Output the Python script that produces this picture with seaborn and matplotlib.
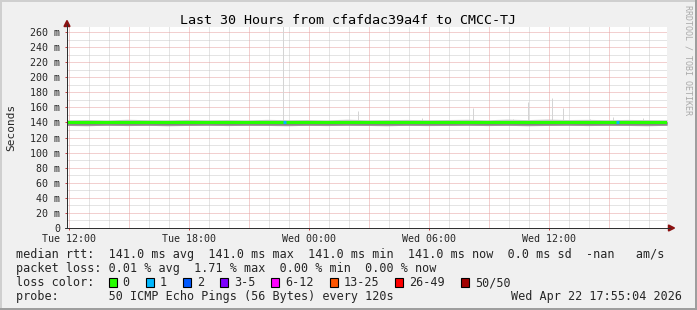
import numpy as np
import pandas as pd
import matplotlib
matplotlib.use("Agg")
import matplotlib.pyplot as plt
import seaborn as sns
from matplotlib.patches import Rectangle, Polygon
from matplotlib.lines import Line2D

# ---------------- data ----------------
title = "Last 30 Hours from cfafdac39a4f to CMCC-TJ"
start_hour = 11 + 55 / 60 + 4 / 3600          # Tue 11:55:04 (hours since Tue 00:00)
span_hours = 30
sample_hours = [start_hour + i for i in range(31)]   # hourly samples across the window

median_ms = [141.0, 141.0, 141.0, 141.0, 141.0, 141.0, 141.0, 141.0, 141.0, 141.0, 141.0,
             141.0, 141.0, 141.0, 141.0, 141.0, 141.0, 141.0, 141.0, 141.0, 141.0,
             141.0, 141.0, 141.0, 141.0, 141.0, 141.0, 141.0, 141.0, 141.0, 141.0]
smoke_min_ms = [136.0, 135.8, 136.2, 135.9, 136.1, 135.8, 136.0, 136.2, 135.9, 136.1, 136.0,
                135.8, 136.1, 135.9, 136.2, 136.0, 135.8, 136.1, 135.9, 136.0, 136.2,
                135.9, 136.1, 135.8, 136.0, 136.2, 135.9, 136.1, 136.0, 135.8, 136.1]
smoke_q1_ms = [138.0, 137.8, 138.1, 137.9, 138.0, 137.7, 137.9, 138.1, 137.8, 138.0, 137.9,
               137.8, 138.0, 137.9, 138.1, 137.9, 137.8, 138.0, 137.9, 137.9, 138.1,
               137.8, 138.0, 137.7, 137.9, 138.1, 137.8, 138.0, 137.9, 137.8, 138.0]
smoke_max_ms = [143.6, 143.9, 143.4, 144.2, 143.7, 143.5, 144.0, 143.6, 143.8, 143.5, 144.1,
                143.7, 143.9, 143.5, 144.3, 143.6, 143.8, 144.0, 143.7, 143.9, 144.2,
                143.6, 144.4, 143.8, 144.5, 143.9, 144.1, 143.7, 144.0, 143.8, 143.6]

spike_hours = [22.72, 26.45, 29.65, 32.20, 34.20, 34.97, 36.15, 36.72, 38.07, 39.20, 40.72]
spike_ms = [300.0, 155.0, 146.0, 159.0, 145.0, 167.0, 172.0, 159.0, 145.0, 147.0, 146.0]

loss1_hours = [22.72, 39.35]

x_tick_hours = [12, 18, 24, 30, 36]
x_tick_labels = ["Tue 12:00", "Tue 18:00", "Wed 00:00", "Wed 06:00", "Wed 12:00"]
y_tick_values = [0, 20, 40, 60, 80, 100, 120, 140, 160, 180, 200, 220, 240, 260]

rtt_stats = [141.0, 141.0, 141.0, 141.0, 0.0]     # avg, max, min, now, sd
loss_stats = [0.01, 1.71, 0.00, 0.00]             # avg, max, min, now
loss_labels = ["0", "1", "2", "3-5", "6-12", "13-25", "26-49", "50/50"]
loss_colors = ["#26ff00", "#00b8ff", "#0059ff", "#7e00ff", "#ff00ff", "#ff5500", "#ff0000", "#a10000"]
probe_text = "50 ICMP Echo Pings (56 Bytes) every 120s"
date_text = "Wed Apr 22 17:55:04 2026"
watermark = "RRDTOOL / TOBI OETIKER"

# ---------------- style ----------------
sns.set_theme(style="white")
plt.rcParams["font.family"] = ["DejaVu Sans Mono"]

W, H = 697, 310
fig = plt.figure(figsize=(W / 100, H / 100), dpi=100, facecolor="#f0f0f0")

def fx(px):
    return px / W

def fy(py):
    return 1 - py / H

ax_l, ax_r, ax_t, ax_b = 67, 667, 27, 228
ax = fig.add_axes([fx(ax_l), fy(ax_b), fx(ax_r - ax_l), (ax_b - ax_t) / H])
ax.set_facecolor("white")
x0, x1 = start_hour, start_hour + span_hours
y_top = (ax_b - ax_t) / (196 / 260)
ax.set_xlim(x0, x1)
ax.set_ylim(0, y_top)
for s in ax.spines.values():
    s.set_visible(False)

# grid
px = 0.72
minor_kw = dict(color="#cacaca", lw=px, linestyle=(0, (1, 1)), zorder=0.5)
major_kw = dict(color="#e6a0a0", lw=px, linestyle=(0, (1, 1)), zorder=0.6)
for h in range(12, 42):
    ax.axvline(h, **(major_kw if h % 3 == 0 else minor_kw))
for v in range(10, 270, 10):
    if v % 20:
        ax.axhline(v, **minor_kw)
for v in y_tick_values[1:]:
    ax.axhline(v, **major_kw)

# smoke
ax.fill_between(sample_hours, smoke_min_ms, smoke_max_ms, color="#c4c4c4", lw=0, zorder=1)
ax.fill_between(sample_hours, smoke_min_ms, median_ms, color="#a09696", lw=0, zorder=1.1)
ax.fill_between(sample_hours, smoke_q1_ms, median_ms, color="#7a7a7a", lw=0, zorder=1.2)
ax.vlines(spike_hours, 142.0, spike_ms, color="#d4d4d4", lw=px, zorder=0.9)

# median line
df = pd.DataFrame({"hour": sample_hours, "median": median_ms})
sns.lineplot(data=df, x="hour", y="median", ax=ax, color=loss_colors[0], lw=2.2, zorder=3)
for h in loss1_hours:
    ax.plot([h, h + 0.15], [141.0, 141.0], color=loss_colors[1], lw=2.2,
            solid_capstyle="butt", zorder=4)

ax.set_xlabel("")
ax.set_ylabel("")
ax.set_xticks(x_tick_hours)
ax.set_xticklabels(x_tick_labels)
ax.set_yticks(y_tick_values)
ax.set_yticklabels(["0" if v == 0 else f"{v} m" for v in y_tick_values])
ax.tick_params(axis="x", labelsize=7.2, length=1.5, width=px, color="#d04040", pad=2.6, bottom=True)
ax.tick_params(axis="y", labelsize=7.2, length=1.5, width=px, color="#d04040", pad=3.6, left=True)

# axes lines with arrows
axis_col = "#303030"
arrow_col = "#8b1010"
fig.add_artist(Line2D([fx(ax_l), fx(ax_l)], [fy(ax_b), fy(24)], color=axis_col, lw=px,
                      transform=fig.transFigure))
fig.add_artist(Line2D([fx(ax_l - 2), fx(670)], [fy(ax_b), fy(ax_b)], color=axis_col, lw=px,
                      transform=fig.transFigure))
fig.add_artist(Polygon([[fx(64), fy(26.5)], [fx(70), fy(26.5)], [fx(67), fy(20.5)]],
                       closed=True, color=arrow_col, transform=fig.transFigure))
fig.add_artist(Polygon([[fx(668.5), fy(225)], [fx(668.5), fy(231)], [fx(674.5), fy(228)]],
                       closed=True, color=arrow_col, transform=fig.transFigure))

# frame shading
fig.add_artist(Rectangle((0, fy(2)), 1, fy(0) - fy(2), color="#cfcfcf", transform=fig.transFigure, lw=0))
fig.add_artist(Rectangle((0, 0), fx(2), 1, color="#cfcfcf", transform=fig.transFigure, lw=0))
fig.add_artist(Rectangle((0, 0), 1, 2 / H, color="#9e9e9e", transform=fig.transFigure, lw=0))
fig.add_artist(Rectangle((fx(W - 2), 0), fx(2), 1, color="#9e9e9e", transform=fig.transFigure, lw=0))

# texts
fig.text(0.5, fy(20), title, ha="center", va="center", fontsize=9.6, color="black")
fig.text(fx(11), fy(127.5), "Seconds", rotation=90, ha="center", va="center", fontsize=8.0)
fig.text(fx(688), fy(60), watermark, rotation=-90, ha="center", va="center", fontsize=6.0,
         color="#aaaaaa")

lx = fx(16)
fs = 8.5
row_y = [254.5, 268.5, 282.5, 296.5]
line1 = (f"median rtt:  {rtt_stats[0]:.1f} ms avg  {rtt_stats[1]:.1f} ms max  "
         f"{rtt_stats[2]:.1f} ms min  {rtt_stats[3]:.1f} ms now  {rtt_stats[4]:.1f} ms sd  -nan   am/s")
line2 = (f"packet loss: {loss_stats[0]:.2f} % avg  {loss_stats[1]:.2f} % max  "
         f"{loss_stats[2]:.2f} % min  {loss_stats[3]:.2f} % now")
fig.text(lx, fy(row_y[0]), line1, ha="left", va="center", fontsize=fs)
fig.text(lx, fy(row_y[1]), line2, ha="left", va="center", fontsize=fs)
fig.text(lx, fy(row_y[2]), "loss color:", ha="left", va="center", fontsize=fs)
cw = 7.11
bx = 108.5
for lab, col in zip(loss_labels, loss_colors):
    fig.add_artist(Rectangle((fx(bx), fy(row_y[2] + 4.5)), fx(8), 9 / H, facecolor=col,
                             edgecolor="black", lw=0.8, transform=fig.transFigure))
    fig.text(fx(bx + 14), fy(row_y[2]), lab, ha="left", va="center", fontsize=fs)
    bx += 30 + cw * len(lab)
fig.text(lx, fy(row_y[3]), "probe:       " + probe_text, ha="left", va="center", fontsize=fs)
fig.text(fx(682), fy(row_y[3]), date_text, ha="right", va="center", fontsize=fs)

fig.savefig("out.png", dpi=100, facecolor=fig.get_facecolor())
